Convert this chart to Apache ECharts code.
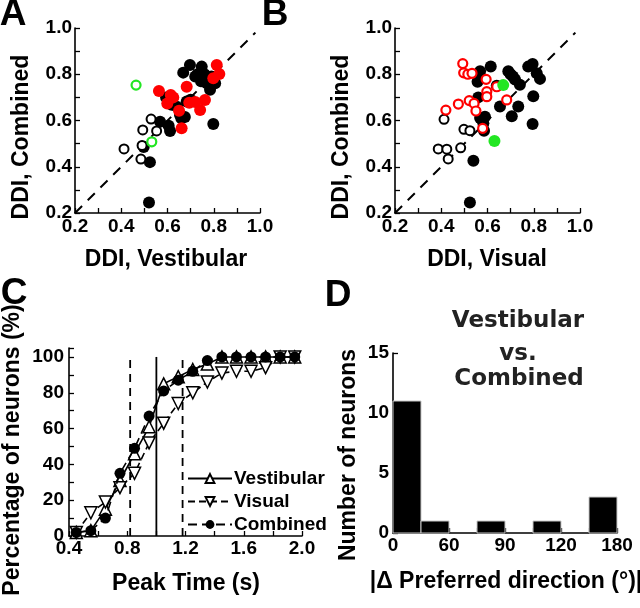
<!DOCTYPE html>
<html><head><meta charset="utf-8">
<script src="https://cdn.jsdelivr.net/npm/echarts@6/dist/echarts.min.js"></script>
<style>html,body{margin:0;padding:0;background:#fff}#c{width:640px;height:608px}</style>
</head><body><div id="c"></div>
<script>
// ---------- Panel A: DDI Vestibular (x) vs Combined (y) ----------
const aBlackFilled = [[0.52,0.245],[0.524,0.42],[0.497,0.485],[0.568,0.595],[0.605,0.577],[0.611,0.555],
  [0.654,0.624],[0.675,0.615],[0.594,0.70],[0.618,0.668],[0.683,0.682],[0.697,0.84],[0.668,0.807],
  [0.748,0.833],[0.72,0.79],[0.77,0.761],[0.806,0.761],[0.784,0.733],[0.76,0.80],[0.798,0.585],
  [0.70,0.69],[0.64,0.66],[0.745,0.77],[0.79,0.79],[0.78,0.76],[0.66,0.61],[0.73,0.80]];
const aRedFilled = [[0.563,0.728],[0.614,0.71],[0.599,0.674],[0.661,0.566],[0.65,0.642],[0.683,0.746],
  [0.694,0.677],[0.741,0.645],[0.762,0.689],[0.813,0.84],[0.824,0.801],[0.798,0.783],[0.72,0.68],[0.625,0.70]];
const aBlackOpen = [[0.412,0.477],[0.493,0.559],[0.529,0.606],[0.553,0.555],[0.485,0.433],[0.49,0.492]];
const aGreenOpen = [[0.464,0.753],[0.532,0.508]];

// ---------- Panel B: DDI Visual (x) vs Combined (y) ----------
const bBlackFilled = [[0.524,0.245],[0.539,0.426],[0.568,0.813],[0.614,0.834],[0.557,0.768],[0.69,0.813],
  [0.719,0.777],[0.74,0.755],[0.776,0.833],[0.795,0.844],[0.813,0.804],[0.827,0.78],[0.798,0.705],
  [0.795,0.585],[0.733,0.661],[0.705,0.618],[0.654,0.661],[0.589,0.616],[0.582,0.588],[0.585,0.556],
  [0.568,0.611],[0.56,0.70],[0.70,0.80],[0.64,0.75],[0.71,0.79]];
const bRedOpen = [[0.493,0.846],[0.497,0.806],[0.515,0.800],[0.533,0.804],[0.594,0.778],[0.597,0.725],
  [0.597,0.703],[0.64,0.746],[0.683,0.689],[0.42,0.645],[0.474,0.671],[0.521,0.686],[0.542,0.674],
  [0.55,0.641],[0.579,0.566]];
const bBlackOpen = [[0.412,0.605],[0.498,0.562],[0.524,0.556],[0.387,0.477],[0.424,0.476],[0.43,0.434],[0.484,0.482]];
const bGreenFilled = [[0.668,0.753],[0.63,0.511]];

const unityLine = [[0.2,0.2],[0.98,0.98]];

// ---------- Panel C: cumulative peak time ----------
const peakTimes = [0.45,0.55,0.65,0.75,0.85,0.95,1.05,1.15,1.25,1.35,1.45,1.55,1.65,1.75,1.85,1.95];
const vestibularPct = [2,3,15,31,46,61,85,89,93,96,100,100,100,100,100,100];
const visualPct     = [2,13,19,27,35,52,63,74,80,86,91,92,92,94,100,100];
const combinedPct   = [2,3,10,35,49,67,81,87,92,98,100,100,100,100,100,100];
const dashedRefX = [0.82,1.18];
const solidRefX = [1.0];
const refTop = 100;

// ---------- Panel D: histogram ----------
const binStarts = [0,22.5,45,67.5,90,112.5,135,157.5];
const binWidth = 22.5;
const binCounts = [11,1,0,1,0,1,0,3];
const dTickPos = [0,45,90,135,180];
const dTickText = ['0','60','90','120','180'];

const FONT = '"Liberation Sans", Arial, Helvetica, sans-serif';
const AX = {color:'#000', width:1.6};
function valAxis(gi, min, max, interval, fmt, minor, margin){
  return {
    type:'value', gridIndex:gi, min:min, max:max, interval:interval,
    axisLine:{show:true, onZero:false, lineStyle:AX},
    axisTick:{show:true, inside:true, length:5, lineStyle:{color:'#000', width:1.3}},
    minorTick:{show:!!minor, splitNumber:minor||5, length:5, lineStyle:{color:'#000', width:1.3}},
    splitLine:{show:false}, minorSplitLine:{show:false},
    axisLabel:{fontFamily:FONT, fontWeight:'bold', fontSize:19, color:'#000', margin:margin, formatter:fmt}
  };
}
const f1 = v => v.toFixed(1);
const f0 = v => String(Math.round(v));
const dFmt = v => { const i = dTickPos.findIndex(p => Math.abs(p - v) < 1e-6); return i >= 0 ? dTickText[i] : ''; };

function scatter(data, xi, fill, stroke, size, bw, z){
  return {type:'scatter', xAxisIndex:xi, yAxisIndex:xi, data:data, symbol:'circle', symbolSize:size, z:z,
    itemStyle:{color:fill, borderColor:stroke, borderWidth:bw, opacity:1}, silent:true};
}
function refSeries(x, dashed){
  return {type:'line', xAxisIndex:2, yAxisIndex:2, data:[[x,0],[x,refTop]], symbol:'none', silent:true, z:1,
    lineStyle:{color:'#000', width:1.8, type: dashed ? [8,6] : 'solid'}};
}
const RED = '#ff0000', GREEN = '#22e622';

const series = [
  {type:'line', xAxisIndex:0, yAxisIndex:0, data:unityLine, symbol:'none', z:1, silent:true, lineStyle:{color:'#000', width:2, type:[10,8]}},
  scatter(aBlackFilled,0,'#000','#000',12,0,2),
  scatter(aBlackOpen,0,'#fff','#000',9,2,3),
  scatter(aRedFilled,0,RED,RED,12,0,4),
  scatter(aGreenOpen,0,'#fff',GREEN,9,2.2,5),
  {type:'line', xAxisIndex:1, yAxisIndex:1, data:unityLine, symbol:'none', z:1, silent:true, lineStyle:{color:'#000', width:2, type:[10,8]}},
  scatter(bBlackFilled,1,'#000','#000',12,0,2),
  scatter(bBlackOpen,1,'#fff','#000',9,2,3),
  scatter(bRedOpen,1,'#fff',RED,9,2.2,4),
  scatter(bGreenFilled,1,GREEN,GREEN,12,0,5),
  ...dashedRefX.map(x => refSeries(x, true)),
  ...solidRefX.map(x => refSeries(x, false)),
  {name:'Vestibular', type:'line', xAxisIndex:2, yAxisIndex:2, data:peakTimes.map((t,i)=>[t,vestibularPct[i]]),
    symbol:'triangle', symbolSize:12, z:3, lineStyle:{color:'#000', width:1.6}, itemStyle:{color:'#fff', borderColor:'#000', borderWidth:1.5}},
  {name:'Visual', type:'line', xAxisIndex:2, yAxisIndex:2, data:peakTimes.map((t,i)=>[t,visualPct[i]]),
    symbol:'triangle', symbolRotate:180, symbolSize:12, z:4, lineStyle:{color:'#000', width:1.6, type:[7,4]}, itemStyle:{color:'#fff', borderColor:'#000', borderWidth:1.5}},
  {name:'Combined', type:'line', xAxisIndex:2, yAxisIndex:2, data:peakTimes.map((t,i)=>[t,combinedPct[i]]),
    symbol:'circle', symbolSize:11, z:5, lineStyle:{color:'#000', width:1.6, type:[9,5]}, itemStyle:{color:'#000', borderColor:'#000', borderWidth:0}},
  {type:'custom', xAxisIndex:3, yAxisIndex:3, silent:true, data:binStarts.map((s,i)=>[s, s+binWidth, binCounts[i]]),
    encode:{x:[0,1], y:2},
    renderItem:(params, api) => {
      const s = api.value(0), e = api.value(1), c = api.value(2);
      if (!c) return null;
      const p0 = api.coord([s, c]), p1 = api.coord([e, 0]);
      return {type:'rect', shape:{x:p0[0], y:p0[1], width:p1[0]-p0[0], height:p1[1]-p0[1]},
        style:{fill:'#000', stroke:'#c8c8c8', lineWidth:1}};
    }}
];

function txt(t, x, y, size, rot, opts){
  opts = opts || {};
  return {type:'text', x:x, y:y, rotation:rot||0, silent:true, z:100,
    style:{text:t, fontFamily:opts.family||FONT, fontWeight:'bold', fontSize:size, fill:opts.color||'#000',
      textAlign:'center', textVerticalAlign:'middle'}};
}
const R = Math.PI/2;
const TF = 23;
const graphic = [
  txt('A', 13, 15, 37), txt('B', 275, 15, 37), txt('C', 14, 294, 37), txt('D', 338, 296, 37),
  txt('DDI, Combined', 22, 137, TF, R), txt('DDI, Vestibular', 166, 260, TF),
  txt('DDI, Combined', 342, 137, TF, R), txt('DDI, Visual', 487, 260, TF),
  txt('Percentage of neurons (%)', 13, 450, TF, R), txt('Peak Time (s)', 186, 584, TF),
  txt('Number of neurons', 349, 455, TF, R), txt('|\u0394 Preferred direction (\u00B0)|', 506, 582, TF),
  txt('Vestibular', 518, 321, 23, 0, {family:'"DejaVu Sans", sans-serif', color:'#222'}),
  txt('vs.', 518, 354, 23, 0, {family:'"DejaVu Sans", sans-serif', color:'#222'}),
  txt('Combined', 519, 379, 23, 0, {family:'"DejaVu Sans", sans-serif', color:'#222'})
];

const option = {
  animation:false,
  backgroundColor:'#fff',
  grid:[
    {left:75, top:28, width:185, height:185},
    {left:395, top:28, width:185, height:185},
    {left:69, top:348, width:233, height:188},
    {left:393, top:353, width:224, height:180}
  ],
  xAxis:[
    valAxis(0,0.2,1.0,0.2,f1,2,4),
    valAxis(1,0.2,1.0,0.2,f1,2,4),
    valAxis(2,0.4,2.0,0.4,f1,2,3),
    valAxis(3,0,180,22.5,dFmt,0,3)
  ],
  yAxis:[
    valAxis(0,0.2,1.0,0.2,f1,2,3),
    valAxis(1,0.2,1.0,0.2,f1,2,3),
    valAxis(2,0,105,20,f0,2,5),
    valAxis(3,0,15,5,f0,0,4)
  ],
  legend:{
    data:['Vestibular','Visual','Combined'], orient:'vertical', left:182, top:464,
    itemWidth:44, itemHeight:11, itemGap:4, selectedMode:false,
    textStyle:{fontFamily:FONT, fontWeight:'bold', fontSize:19, color:'#000', padding:[0,0,0,-3]}
  },
  series:series,
  graphic:graphic
};
const chart = echarts.init(document.getElementById('c'), null, {renderer:'canvas'});
chart.setOption(option);
</script>
</body></html>
